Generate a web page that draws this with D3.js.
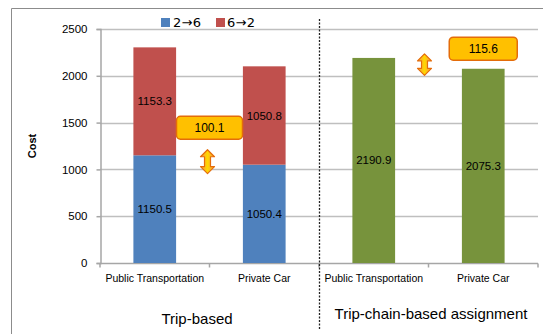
<!DOCTYPE html>
<html><head><meta charset="utf-8">
<script src="https://cdn.jsdelivr.net/npm/d3@7"></script>
<style>body{margin:0;background:#fff}svg{display:block;font-family:"Liberation Sans",Arial,sans-serif}</style>
</head><body><svg id="c" width="543" height="334"></svg>
<script>
const categories = ["Public Transportation","Private Car","Public Transportation","Private Car"];
const groups = ["Trip-based","Trip-chain-based assignment"];
const series26 = [1150.5, 1050.4, null, null];
const series62 = [1153.3, 1050.8, null, null];
const totals = [null, null, 2190.9, 2075.3];
const diffs = [100.1, 115.6];
const yTicks = [0, 500, 1000, 1500, 2000, 2500];
const legendLabels = ["2\u21926", "6\u21922"];
const colors = {s26:"#4F81BD", s62:"#C0504D", tot:"#77933C", grid:"#BFBFBF", axis:"#A6A6A6"};

const svg = d3.select("#c");
const m = {l:100, r:538, t:29, b:263};
const x = d3.scaleBand().domain(d3.range(categories.length)).range([m.l, m.r]).paddingInner(0.61).paddingOuter(0.305);
const step = (m.r - m.l) / categories.length;
const y = d3.scaleLinear().domain([0, 2500]).range([m.b, m.t]);

// outer frame
svg.append("path").attr("d", `M11.5,340 V8.5 H560`).attr("fill","none").attr("stroke","#8C8C8C").attr("stroke-width",1);

// gridlines
svg.append("g").selectAll("line").data(yTicks.filter(d=>d>0)).join("line")
  .attr("x1", m.l).attr("x2", m.r).attr("y1", d=>Math.round(y(d))+0.5).attr("y2", d=>Math.round(y(d))+0.5)
  .attr("stroke", colors.grid).attr("stroke-width", 1.5);

// y axis
const ya = svg.append("g").attr("transform", `translate(${m.l+0.5},0)`)
  .call(d3.axisLeft(y).tickValues(yTicks).tickFormat(d3.format("d")).tickSize(4).tickPadding(9));
ya.select(".domain").attr("stroke", colors.axis).attr("stroke-width",1.5);
ya.selectAll(".tick line").attr("stroke", colors.axis).attr("stroke-width",1.5);
ya.selectAll(".tick text").attr("font-size", 11.5).attr("fill","#000").attr("font-family","Liberation Sans, Arial");

// x axis
const xa = svg.append("g").attr("transform", `translate(0,${Math.round(y(0))+0.5})`);
xa.append("line").attr("x1", m.l).attr("x2", m.r).attr("stroke", colors.axis).attr("stroke-width",1.5);
xa.selectAll("line.t").data(d3.range(categories.length+1)).join("line").attr("class","t")
  .attr("x1", i=>m.l+i*step).attr("x2", i=>m.l+i*step).attr("y1",0).attr("y2",4)
  .attr("stroke", colors.axis).attr("stroke-width",1.5);
xa.selectAll("text").data(categories).join("text")
  .attr("x", (d,i)=>x(i)+x.bandwidth()/2).attr("y", 18).attr("text-anchor","middle")
  .attr("font-size", 10.5).attr("fill","#000").text(d=>d);

// bars
const bars = svg.append("g");
categories.forEach((c,i)=>{
  const bx = x(i), bw = x.bandwidth();
  if (series26[i] != null) {
    bars.append("rect").attr("x",bx).attr("width",bw).attr("y",y(series26[i])).attr("height",y(0)-y(series26[i])).attr("fill",colors.s26);
    bars.append("rect").attr("x",bx).attr("width",bw).attr("y",y(series26[i]+series62[i])).attr("height",y(series26[i])-y(series26[i]+series62[i])).attr("fill",colors.s62);
    bars.append("text").attr("x",bx+bw/2).attr("y",y(series26[i]/2)+4).attr("text-anchor","middle").attr("font-size",11.5).text(series26[i].toFixed(1));
    bars.append("text").attr("x",bx+bw/2).attr("y",y(series26[i]+series62[i]/2)+4).attr("text-anchor","middle").attr("font-size",11.5).text(series62[i].toFixed(1));
  }
  if (totals[i] != null) {
    bars.append("rect").attr("x",bx).attr("width",bw).attr("y",y(totals[i])).attr("height",y(0)-y(totals[i])).attr("fill",colors.tot);
    bars.append("text").attr("x",bx+bw/2).attr("y",y(totals[i]/2)+4).attr("text-anchor","middle").attr("font-size",11.5).text(totals[i].toFixed(1));
  }
});

// separator
svg.append("line").attr("x1", m.l+2*step+0.5).attr("x2", m.l+2*step+0.5).attr("y1", 19).attr("y2", 330)
  .attr("stroke","#222").attr("stroke-width",1.3).attr("stroke-dasharray","2,1.5");

// legend
const lg = svg.append("g");
[[colors.s26,161,173],[colors.s62,216,227]].forEach((d,i)=>{
  lg.append("rect").attr("x",d[1]).attr("y",18).attr("width",9).attr("height",9).attr("fill",d[0]);
  lg.append("text").attr("x",d[2]).attr("y",27).attr("font-size",13).attr("font-family","DejaVu Sans").attr("textLength",28).text(legendLabels[i]);
});

// y title
svg.append("text").attr("transform","translate(36,146) rotate(-90)").attr("text-anchor","middle")
  .attr("font-size",11).attr("font-weight","bold").text("Cost");

// group labels
svg.append("text").attr("x", 197).attr("y", 324).attr("text-anchor","middle").attr("font-size",15).text(groups[0]);
svg.append("text").attr("x", 431).attr("y", 319).attr("text-anchor","middle").attr("font-size",15).text(groups[1]);

// gradient for arrows
const defs = svg.append("defs");
const gr = defs.append("linearGradient").attr("id","ag").attr("x1",0).attr("x2",1).attr("y1",0).attr("y2",0);
gr.append("stop").attr("offset","0%").attr("stop-color","#F79646");
gr.append("stop").attr("offset","50%").attr("stop-color","#FFD700");
gr.append("stop").attr("offset","100%").attr("stop-color","#F79646");

function arrow(cx, top, bot) {
  const hw = 7, sw = 3, hh = 7;
  const p = `M${cx},${top} L${cx+hw},${top+hh} L${cx+sw},${top+hh} L${cx+sw},${bot-hh} L${cx+hw},${bot-hh} L${cx},${bot} L${cx-hw},${bot-hh} L${cx-sw},${bot-hh} L${cx-sw},${top+hh} L${cx-hw},${top+hh} Z`;
  svg.append("path").attr("d",p).attr("fill","url(#ag)").attr("stroke","#E46C0A").attr("stroke-width",1.2).attr("stroke-linejoin","round");
}
function callout(cx, cy, w, txt) {
  svg.append("rect").attr("x",cx-w/2).attr("y",cy-11.5).attr("width",w).attr("height",23).attr("rx",4)
    .attr("fill","#FFC000").attr("stroke","#E46C0A").attr("stroke-width",1.5);
  svg.append("text").attr("x",cx).attr("y",cy+4.5).attr("text-anchor","middle").attr("font-size",12).text(txt);
}
// callout 1 : trip-based difference
const b1 = m.l + step;
callout(b1, y(1445), 66, diffs[0].toFixed(1));
arrow(b1-2, y(1210), y(955));
// callout 2 : trip-chain difference
const b2 = m.l + 3*step;
callout(x(3)+x.bandwidth()/2, y(2290), 68, diffs[1].toFixed(1));
arrow(b2-4, y(2235), y(2005));
</script></body></html>
